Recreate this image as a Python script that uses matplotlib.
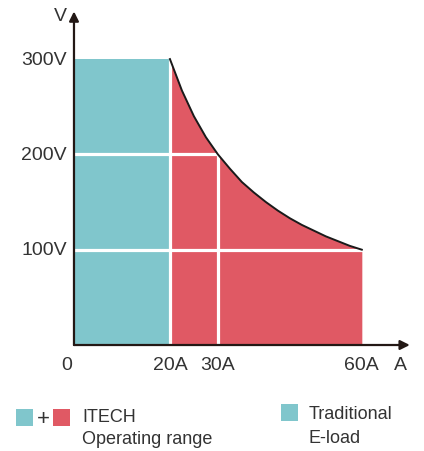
import matplotlib
matplotlib.use('Agg')
import matplotlib.pyplot as plt
from matplotlib.patches import Rectangle

# traditional e-load box
trad_current = [0, 20]
trad_voltage = [300, 300]

# ITECH constant-power boundary
curve_current = [20, 22.5, 25, 27.5, 30, 32.5, 35, 37.5, 40, 42.5, 45, 47.5, 50, 52.5, 55, 57.5, 60]
curve_voltage = [300, 267, 240, 218, 200, 185, 171, 160, 150, 141, 133, 126, 120, 114, 109, 104, 100]

# grid lines (current limit, voltage level)
h_lines = [(100, 60), (200, 30)]
v_lines = [(20, 300), (30, 200)]

x_ticks = [0, 20, 30, 60]
x_labels = ['0', '20A', '30A', '60A']
y_ticks = [100, 200, 300]
y_labels = ['100V', '200V', '300V']

teal = '#80c6cc'
red = '#e05964'
txt = '#333333'

plt.rcParams['font.family'] = ['Liberation Sans', 'DejaVu Sans']

fig = plt.figure(figsize=(4.24, 4.52), dpi=100)
ax = fig.add_axes([0.1745, 0.2345, 0.792, 0.738])
ax.set_xlim(0, 70)
ax.set_ylim(0, 350)

ax.fill_between(trad_current, 0, trad_voltage, color=teal, lw=0)
ax.fill_between(curve_current, 0, curve_voltage, color=red, lw=0)

for v, xe in h_lines:
    ax.plot([0, xe], [v, v], color='white', lw=2.3)
for x, ye in v_lines:
    ax.plot([x, x], [0, ye], color='white', lw=2.3)

ax.plot(curve_current, curve_voltage, color='#1a1a1a', lw=1.4)

# axes with arrows
ax.annotate('', xy=(70, 0), xytext=(0, 0),
            arrowprops=dict(arrowstyle='-|>', color='#231815', lw=1.6, mutation_scale=14, shrinkA=0, shrinkB=0),
            annotation_clip=False)
ax.annotate('', xy=(0, 350), xytext=(0, 0),
            arrowprops=dict(arrowstyle='-|>', color='#231815', lw=1.6, mutation_scale=14, shrinkA=0, shrinkB=0),
            annotation_clip=False)

for s in ax.spines.values():
    s.set_visible(False)
ax.set_xticks([])
ax.set_yticks([])

fs = 14
for x, lab in zip(x_ticks, x_labels):
    ax.text(x if x else -1.5, -20.5, lab, ha='center', va='center', fontsize=fs, color=txt)
ax.text(68, -20.5, 'A', ha='center', va='center', fontsize=fs, color=txt)
for y, lab in zip(y_ticks, y_labels):
    ax.text(-1.5, y, lab, ha='right', va='center', fontsize=fs, color=txt)
ax.text(-2.8, 346, 'V', ha='center', va='center', fontsize=fs, color=txt)

# legend
W, H = 424, 452
def sq(x, y, c):
    fig.patches.append(Rectangle((x / W, 1 - (y + 17) / H), 17 / W, 17 / H,
                                 transform=fig.transFigure, color=c, lw=0))
sq(16, 410, teal)
sq(53, 410, red)
fig.text(43 / W, 1 - 420 / H, '+', ha='center', va='center', fontsize=16, color=txt)
fig.text(82 / W, 1 - 418 / H, 'ITECH', ha='left', va='center', fontsize=13, color=txt)
fig.text(82 / W, 1 - 440 / H, 'Operating range', ha='left', va='center', fontsize=13, color=txt)
sq(281, 405, teal)
fig.text(309 / W, 1 - 415 / H, 'Traditional', ha='left', va='center', fontsize=13, color=txt)
fig.text(309 / W, 1 - 439 / H, 'E-load', ha='left', va='center', fontsize=13, color=txt)

plt.savefig('out.png', dpi=100)
